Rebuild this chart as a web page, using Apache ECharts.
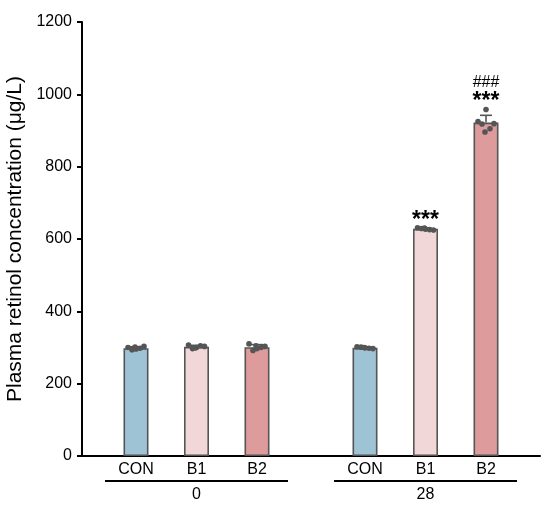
<!DOCTYPE html>
<html>
<head>
<meta charset="utf-8">
<script src="https://cdn.jsdelivr.net/npm/echarts@6/dist/echarts.min.js"></script>
<style>
  html, body { margin: 0; padding: 0; background: #fff; }
  #chart { width: 550px; height: 513px; }
</style>
</head>
<body>
<div id="chart"></div>
<script>
// days (x groups) and treatment groups
const days = ['0', '28'];
const treatments = ['CON', 'B1', 'B2'];
const colors = ['#9dc3d5', '#f1d7d7', '#dd9b9c'];

// bar means per treatment, [day 0, day 28]
const conMean = [298, 299];
const b1Mean = [302, 628];
const b2Mean = [301, 922];

// error (upper) per treatment
const conErr = [4, 3];
const b1Err = [4, 3];
const b2Err = [7, 20];

// individual animals per bar
const conPoints = [[296, 300, 303, 294, 298, 301], [299, 302, 297, 301, 298, 300]];
const b1Points = [[300, 307, 303, 297, 305, 299], [627, 631, 625, 629, 626, 630]];
const b2Points = [[297, 310, 303, 292, 300, 305], [958, 925, 919, 918, 905, 896]];

// significance marks above bars
const b1Sig = ['', '***'];
const b2Sig = ['', '***'];
const b2Sig2 = ['', '###'];

const yTicks = { min: 0, max: 1200, interval: 200 };

const means = [conMean, b1Mean, b2Mean];
const errs = [conErr, b1Err, b2Err];
const points = [conPoints, b1Points, b2Points];
const sigs = [['', ''], b1Sig, b2Sig];
const sigs2 = [['', ''], ['', ''], b2Sig2];

const BAR_W = 25;
const GAP = 1.42;
const jitter = [0, -8, 8, -4, 4, -1];

const extraData = [];
for (let g = 0; g < days.length; g++) {
  for (let t = 0; t < treatments.length; t++) {
    extraData.push([g, means[t][g], t, errs[t][g]]);
  }
}

const font = '"Liberation Sans", Arial, sans-serif';

function renderExtra(params, api) {
  const g = api.value(0);
  const mean = api.value(1);
  const t = api.value(2);
  const err = api.value(3);
  const step = BAR_W * (1 + GAP);
  const base = api.coord([g, mean]);
  const x = base[0] + (t - 1) * step;
  const yMean = base[1];
  const yHigh = api.coord([g, mean + err])[1];
  const children = [];
  const lineStyle = { stroke: '#555', lineWidth: 1.6 };
  children.push({ type: 'line', shape: { x1: x, y1: yMean, x2: x, y2: yHigh }, style: lineStyle });
  children.push({ type: 'line', shape: { x1: x - 6, y1: yHigh, x2: x + 6, y2: yHigh }, style: lineStyle });
  const pts = points[t][g];
  let top = mean + err;
  pts.forEach(function (v, i) {
    const p = api.coord([g, v]);
    top = Math.max(top, v);
    children.push({
      type: 'circle',
      shape: { cx: x + jitter[i], cy: p[1], r: 2.8 },
      style: { fill: '#555' }
    });
  });
  const yTop = api.coord([g, top])[1];
  if (sigs[t][g]) {
    children.push({
      type: 'text',
      style: {
        text: sigs[t][g], x: x, y: yTop + 4,
        align: 'center', verticalAlign: 'bottom',
        font: 'bold 23px ' + font, fill: '#000'
      }
    });
  }
  if (sigs2[t][g]) {
    children.push({
      type: 'text',
      style: {
        text: sigs2[t][g], x: x, y: yTop - 19,
        align: 'center', verticalAlign: 'bottom',
        font: '16px ' + font, fill: '#000'
      }
    });
  }
  return { type: 'group', children: children };
}

const option = {
  animation: false,
  grid: { left: 82, right: 10, top: 22, bottom: 57, outerBoundsMode: 'none', containLabel: false },
  xAxis: {
    type: 'category',
    data: days,
    axisLine: { lineStyle: { color: '#000', width: 2 } },
    axisTick: { show: false },
    axisLabel: {
      margin: 24,
      formatter: function (v) { return '{u|\u00a0}\n{v|' + v + '}'; },
      rich: {
        u: { width: 183, height: 2, lineHeight: 2, backgroundColor: '#000', fontSize: 1 },
        v: { fontSize: 16, lineHeight: 22, color: '#000', fontFamily: font, padding: [4, 0, 0, 0] }
      }
    }
  },
  yAxis: {
    type: 'value',
    min: yTicks.min,
    max: yTicks.max,
    interval: yTicks.interval,
    name: 'Plasma retinol concentration (μg/L)',
    nameLocation: 'middle',
    nameRotate: 90,
    nameGap: 55,
    nameTextStyle: { fontSize: 21, color: '#000', fontFamily: font },
    splitLine: { show: false },
    axisLine: { show: true, lineStyle: { color: '#000', width: 2 } },
    axisTick: { show: true, length: 5, lineStyle: { color: '#000', width: 2 } },
    axisLabel: {
      fontSize: 16, color: '#000', fontFamily: font, margin: 10,
      formatter: function (v) { return String(v); }
    }
  },
  series: treatments.map(function (name, t) {
    return {
      name: name,
      type: 'bar',
      barWidth: BAR_W,
      barGap: (GAP * 100) + '%',
      data: means[t],
      itemStyle: { color: colors[t], borderColor: '#555', borderWidth: 1.6 },
      label: {
        show: true,
        position: 'bottom',
        distance: 6,
        formatter: name,
        fontSize: 16,
        color: '#000',
        fontFamily: font
      }
    };
  }).concat([{
    type: 'custom',
    renderItem: renderExtra,
    data: extraData,
    z: 5
  }])
};

const chart = echarts.init(document.getElementById('chart'));
chart.setOption(option);
</script>
</body>
</html>
